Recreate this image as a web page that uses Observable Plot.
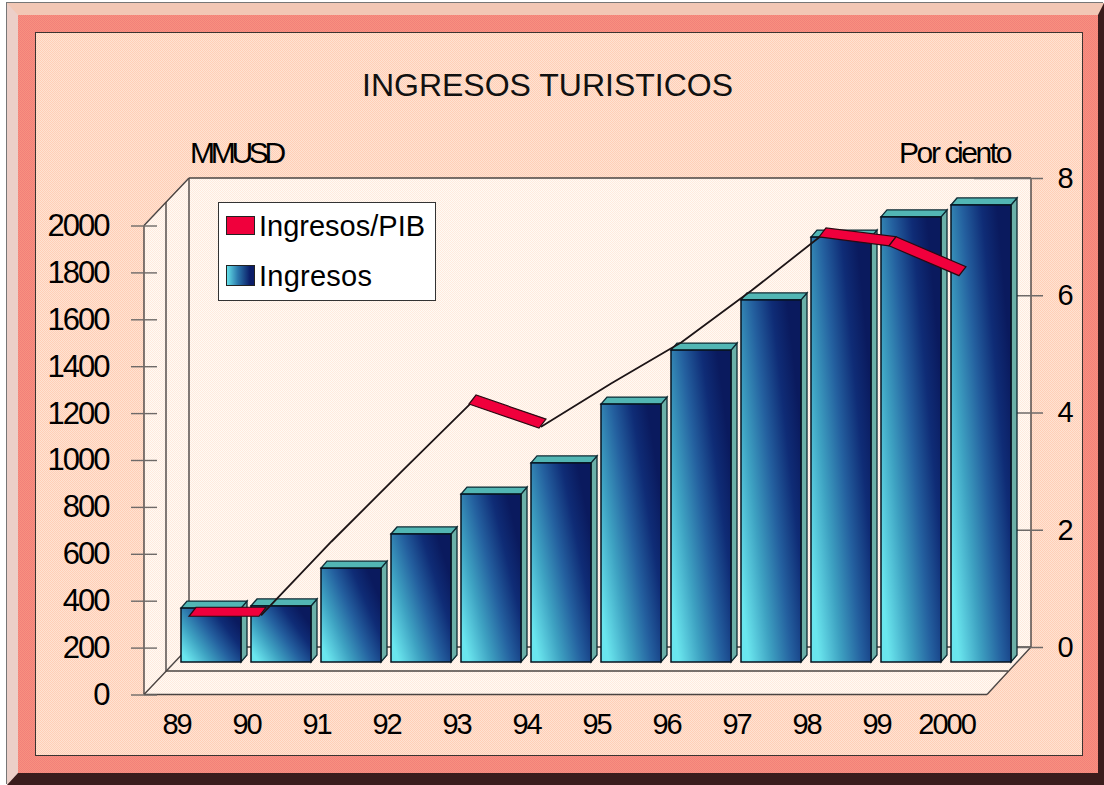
<!DOCTYPE html>
<html><head><meta charset="utf-8">
<script src="https://cdn.jsdelivr.net/npm/d3@7"></script>
<script src="https://cdn.jsdelivr.net/npm/@observablehq/plot@0.6"></script>
<style>
html,body{margin:0;padding:0;background:#fff;width:1104px;height:785px;overflow:hidden;font-family:"Liberation Sans",Arial,sans-serif;color:#000}
#bevel{position:absolute;left:7px;top:3px;width:1097px;height:782px;box-sizing:border-box;border-style:solid;border-width:12px 6px 12px 11px;border-color:#f2c7b5 #3a1c1c #3a1c1c #eccfc8;box-shadow:-1px -1px 0 #777}
#band{position:absolute;left:18px;top:15px;width:1080px;height:758px;background:repeating-conic-gradient(#f2807a 0 25%,#f8917f 0 50%) 0 0/2px 2px}
#panel{position:absolute;left:35px;top:32px;width:1048px;height:724px;box-sizing:border-box;border:1.5px solid #3b3330;background:repeating-conic-gradient(#ffcfb6 0 25%,#ffe2d2 0 50%) 0 0/2px 2px}
#chart{position:absolute;left:0;top:0}
.t{position:absolute;white-space:nowrap;line-height:1;font-family:"Liberation Sans",Arial,sans-serif}
#title{left:362px;top:69px;font-size:32px;color:#111}
#unitL{left:190px;top:138px;font-size:30px;letter-spacing:-4.3px}
#unitR{left:899px;top:138px;font-size:30px;letter-spacing:-2.4px}
#legend{position:absolute;left:218px;top:202px;width:218px;height:99px;box-sizing:border-box;background:#fff;border:1.5px solid #333}
.sw{position:absolute;left:7px;width:29px;height:19px;box-sizing:border-box;border:1px solid #222}
.lb{position:absolute;left:40px;font-size:29px;line-height:1;white-space:nowrap}
.chart text{letter-spacing:-2px}
</style></head>
<body>
<div id="bevel"></div><div id="band"></div><div id="panel"></div>
<div id="host"></div>
<div class="t" id="title">INGRESOS TURISTICOS</div>
<div class="t" id="unitL">MMUSD</div>
<div class="t" id="unitR">Por ciento</div>
<div id="legend">
  <div class="sw" style="top:13px;background:#f0003c"></div><div class="lb" style="top:9px">Ingresos/PIB</div>
  <div class="sw" style="top:62px;height:21px;background:linear-gradient(90deg,#63dfe8,#2b78ac 40%,#0b1d68 85%)"></div><div class="lb" style="top:59px;letter-spacing:.25px">Ingresos</div>
</div>
<script>
const years   = ["89","90","91","92","93","94","95","96","97","98","99","2000"];
const ingresos = [230,239,400,546,716,849,1100,1330,1544,1812,1898,1949];
const ratio    = [0.78,0.78,2.03,3.22,4.40,3.99,4.73,5.43,6.31,7.25,7.10,6.59];
const leftTicks  = [0,200,400,600,800,1000,1200,1400,1600,1800,2000];
const rightTicks = [0,2,4,6,8];
const k = 2000 / 8;               // right axis spans the same height as the left one

const rows = years.map((year,i)=>({year,ingresos:ingresos[i],ratio:ratio[i]}));

// Rising stretches of the ribbon are seen edge-on (a thin line); falling/flat ones show their face.
const thin = [];
let run = 0;
rows.slice(1).forEach((r,i)=>{
  if (r.ratio > rows[i].ratio) { thin.push({...rows[i],run},{...r,run}); }
  else run++;
});

const FONT = "Liberation Sans";
const ns = "svg:";

function walls(index,{y},values,dim){
  const L=dim.marginLeft, R=dim.width-dim.marginRight;
  const frontDy=32.5, backDy=-15, backDx=45, frontInset=44, yB=y(0), yT=y(2000);
  const g=d3.create(ns+"g");
  const defs=g.append(ns+"defs");
  const grad=defs.append(ns+"linearGradient").attr("id","barFace").attr("x1",0).attr("y1",0.8).attr("x2",0.9).attr("y2",0.2);
  [[0,"#6ae6ee"],[0.28,"#3ea2c2"],[0.55,"#24609f"],[0.8,"#0f2c76"],[1,"#0a1a5e"]].forEach(([o,c])=>grad.append(ns+"stop").attr("offset",o).attr("stop-color",c));
  const p=defs.append(ns+"pattern").attr("id","wallTex").attr("width",2).attr("height",2).attr("patternUnits","userSpaceOnUse");
  p.append(ns+"rect").attr("width",2).attr("height",2).attr("fill","#fffaf4");
  p.append(ns+"rect").attr("width",1).attr("height",1).attr("fill","#ffeadd");
  p.append(ns+"rect").attr("x",1).attr("y",1).attr("width",1).attr("height",1).attr("fill","#ffeadd");
  const poly=(pts)=>g.append(ns+"polygon").attr("points",pts.join(" ")).attr("fill","url(#wallTex)").attr("stroke","none");
  const BL=L+backDx, FR=R-frontInset;
  poly([[BL,yT+backDy],[R,yT+backDy],[R,yB+backDy],[BL,yB+backDy]]);
  poly([[L,yT+frontDy],[BL,yT+backDy],[BL,yB+backDy],[L,yB+frontDy]]);
  poly([[L,yB+frontDy],[BL,yB+backDy],[R,yB+backDy],[FR,yB+frontDy]]);
  const seg=(a,b,c="#4a4442")=>g.append(ns+"line").attr("x1",a[0]).attr("y1",a[1]).attr("x2",b[0]).attr("y2",b[1]).attr("stroke",c).attr("stroke-width",1.4);
  seg([L,yT+frontDy],[BL,yT+backDy]);
  seg([BL,yT+backDy],[R,yT+backDy]);
  seg([R,yT+backDy],[R,yB+backDy]);
  seg([BL,yT+backDy],[BL,yB+backDy]);
  seg([L,yT+frontDy],[L,yB+frontDy]);
  seg([L+22,yT+frontDy-23.5],[L+22,yB+frontDy-23.5]);
  seg([L,yB+frontDy],[FR,yB+frontDy]);
  seg([L,yB+frontDy],[BL,yB+backDy]);
  seg([FR,yB+frontDy],[R,yB+backDy]);
  seg([L+22,yB+frontDy-23.5],[FR+21,yB+frontDy-23.5]);
  seg([BL,yB+backDy],[R,yB+backDy]);
  return g.node();
}

function barDepth(index,{x,y}){
  const dx=6,dy=-7,w=x.bandwidth();
  const g=d3.create(ns+"g");
  rows.forEach(r=>{
    const x0=x(r.year),x1=x0+w,yt=y(r.ingresos),yb=y(0);
    g.append(ns+"polygon").attr("points",[[x1,yt],[x1+dx,yt+dy],[x1+dx,yb+dy],[x1,yb]].join(" "))
      .attr("fill","#6bb0a8").attr("stroke","#0d2a33").attr("stroke-width",1.3);
    g.append(ns+"polygon").attr("points",[[x0,yt],[x1,yt],[x1+dx,yt+dy],[x0+dx,yt+dy]].join(" "))
      .attr("fill","#52b6b4").attr("stroke","#0d2a33").attr("stroke-width",1.3);
  });
  return g.node();
}

function ribbon(index,{x,y}){
  const off=-22,dx=7,dy=-9,b=x.bandwidth()/2;
  const g=d3.create(ns+"g");
  rows.slice(1).forEach((r,i)=>{
    const a=rows[i];
    if (r.ratio>a.ratio) return;
    const ax=x(a.year)+b+off, rx=x(r.year)+b+off, ay=y(a.ratio*k), ry=y(r.ratio*k);
    g.append(ns+"polygon").attr("points",[[ax,ay],[rx,ry],[rx+dx,ry+dy],[ax+dx,ay+dy]].join(" "))
      .attr("fill","#f0003c").attr("stroke","#2a0a12").attr("stroke-width",1.2);
  });
  return g.node();
}

const plot = Plot.plot({
  width:1104,height:785,
  marginLeft:144,marginRight:73,marginTop:179,marginBottom:91,
  className:"chart",
  style:{background:"transparent",fontFamily:FONT,color:"#000"},
  x:{type:"band",domain:years,range:[170.2,1021.2],padding:0.14,align:0.5,axis:null},
  y:{domain:[0,2000],range:[662,193],axis:null},
  marks:[
    walls,
    Plot.ruleY(leftTicks,{y:d=>d,insetLeft:-13,insetRight:874,dy:32.5,stroke:"#6e6a68",strokeWidth:1.4}),
    Plot.ruleY(rightTicks,{y:d=>d*k,insetLeft:830,insetRight:-12,dy:-15,stroke:"#6e6a68",strokeWidth:1.4}),
    Plot.axisY({anchor:"left",ticks:leftTicks,tickSize:0,tickPadding:36,dy:32.5,label:null,fontSize:31,tickFormat:d=>String(d)}),
    Plot.axisY({anchor:"right",ticks:rightTicks.map(d=>d*k),tickSize:0,tickPadding:26,dy:-15,label:null,fontSize:29,tickFormat:d=>String(d/k)}),
    Plot.axisX({anchor:"bottom",tickSize:0,tickPadding:19,dx:-35,label:null,fontSize:29}),
    barDepth,
    Plot.barY(rows,{x:"year",y:"ingresos",fill:"url(#barFace)",stroke:"#07131f",strokeWidth:1.5}),
    Plot.line(thin,{x:"year",y:d=>d.ratio*k,z:"run",dx:-20,dy:-2,stroke:"#1c1416",strokeWidth:1.8}),
    ribbon
  ]
});
plot.id="chart";
document.getElementById("host").append(plot);
</script>
</body></html>
